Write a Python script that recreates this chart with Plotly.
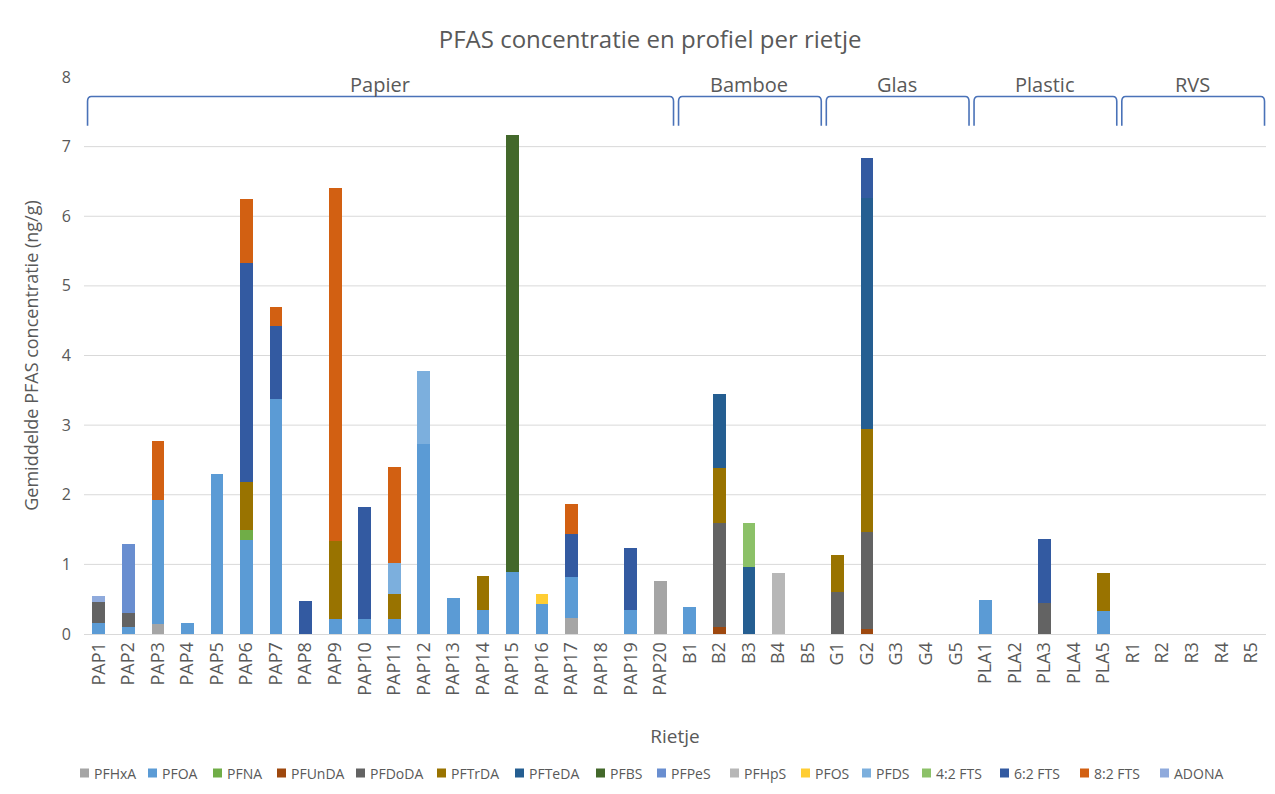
import plotly.graph_objects as go

categories = (["PAP%d" % i for i in range(1, 21)] + ["B%d" % i for i in range(1, 6)]
              + ["G%d" % i for i in range(1, 6)] + ["PLA%d" % i for i in range(1, 6)]
              + ["R%d" % i for i in range(1, 6)])

# group name, first and last category
groups = [("Papier", "PAP1", "PAP20"), ("Bamboe", "B1", "B5"), ("Glas", "G1", "G5"),
          ("Plastic", "PLA1", "PLA5"), ("RVS", "R1", "R5")]

def series(vals):
    out = [0.0] * len(categories)
    for k, v in vals.items():
        out[categories.index(k)] = v
    return out

PFHxA = series({"PAP3": 0.14, "PAP17": 0.23, "PAP20": 0.76})
PFOA = series({"PAP1": 0.16, "PAP2": 0.10, "PAP3": 1.79, "PAP4": 0.16, "PAP5": 2.30, "PAP6": 1.35,
               "PAP7": 3.37, "PAP9": 0.21, "PAP10": 0.21, "PAP11": 0.22, "PAP12": 2.73, "PAP13": 0.51,
               "PAP14": 0.35, "PAP15": 0.89, "PAP16": 0.43, "PAP17": 0.59, "PAP19": 0.35, "B1": 0.39,
               "PLA1": 0.49, "PLA5": 0.33})
PFNA = series({"PAP6": 0.15})
PFUnDA = series({"B2": 0.10, "G2": 0.07})
PFDoDA = series({"PAP1": 0.30, "PAP2": 0.20, "B2": 1.50, "G1": 0.61, "G2": 1.40, "PLA3": 0.44})
PFTrDA = series({"PAP6": 0.69, "PAP9": 1.12, "PAP11": 0.35, "PAP14": 0.49, "B2": 0.78, "G1": 0.52,
                 "G2": 1.47, "PLA5": 0.55})
PFTeDA = series({"B2": 1.07, "B3": 0.96, "G2": 3.32})
PFBS = series({"PAP15": 6.27})
PFPeS = series({"PAP2": 0.99})
PFHpS = series({"B4": 0.87})
PFOS = series({"PAP16": 0.14})
PFDS = series({"PAP11": 0.45, "PAP12": 1.05})
FTS42 = series({"B3": 0.64})
FTS62 = series({"PAP6": 3.14, "PAP7": 1.06, "PAP8": 0.48, "PAP10": 1.62, "PAP17": 0.61, "PAP19": 0.88,
                "G2": 0.57, "PLA3": 0.93})
FTS82 = series({"PAP3": 0.84, "PAP6": 0.92, "PAP7": 0.27, "PAP9": 5.08, "PAP11": 1.38, "PAP17": 0.44})
ADONA = series({"PAP1": 0.09})

series_names = ["PFHxA", "PFOA", "PFNA", "PFUnDA", "PFDoDA", "PFTrDA", "PFTeDA", "PFBS", "PFPeS",
                "PFHpS", "PFOS", "PFDS", "4:2 FTS", "6:2 FTS", "8:2 FTS", "ADONA"]
series_values = [PFHxA, PFOA, PFNA, PFUnDA, PFDoDA, PFTrDA, PFTeDA, PFBS, PFPeS, PFHpS, PFOS, PFDS,
                 FTS42, FTS62, FTS82, ADONA]
colors = ["#A5A5A5", "#5B9BD5", "#70AD47", "#9E480E", "#636363", "#997300", "#255E91", "#43682B",
          "#698ED0", "#B7B7B7", "#FFCD33", "#7CAFDD", "#8CC168", "#335AA1", "#D26012", "#8FAADC"]

# legend entry start positions (page pixels, layout only)
legend_x_px = [80, 148, 213, 277, 356, 437, 515, 596, 657, 730, 801, 862, 922, 1000, 1080, 1160]

xs = list(range(len(categories)))

fig = go.Figure()
for name, vals, col in zip(series_names, series_values, colors):
    fig.add_trace(go.Bar(x=xs, y=vals, name=name, marker=dict(color=col, line=dict(width=0))))

FONT = "Open Sans"
GREY = "#595959"
W, H = 1259, 778
L, R, T, B = 76, 1, 69, 152
PW, PH = W - L - R, H - T - B
OFF = 8  # page body margin


def px_x(X):
    return (X - OFF - L) / PW


def px_y(Y):
    return (OFF + H - B - Y) / PH


shapes = []
for yv in range(1, 8):
    shapes.append(dict(type="line", xref="paper", yref="y", x0=0, x1=1, y0=yv, y1=yv,
                       line=dict(color="#D9D9D9", width=1), layer="below"))

annotations = []
yt, yb, rx, ry = 7.72, 7.30, 0.13, 0.07
for gname, a, b in groups:
    x0 = categories.index(a) - 0.38
    x1 = categories.index(b) + 0.45
    path = (f"M {x0},{yb} L {x0},{yt - ry} Q {x0},{yt} {x0 + rx},{yt} "
            f"L {x1 - rx},{yt} Q {x1},{yt} {x1},{yt - ry} L {x1},{yb}")
    shapes.append(dict(type="path", xref="x", yref="y", path=path,
                       line=dict(color="#4A72B8", width=1.6)))
    annotations.append(dict(x=(categories.index(a) + categories.index(b)) / 2, y=7.89, xref="x",
                            yref="y", text=gname, showarrow=False,
                            font=dict(family=FONT, size=20, color=GREY)))

# legend row (squares + labels) at the bottom
LEG_Y = 773
SQ = 9
for name, col, X in zip(series_names, colors, legend_x_px):
    shapes.append(dict(type="rect", xref="paper", yref="paper",
                       x0=px_x(X), x1=px_x(X + SQ), y0=px_y(LEG_Y + SQ / 2), y1=px_y(LEG_Y - SQ / 2),
                       fillcolor=col, line=dict(width=0)))
    annotations.append(dict(x=px_x(X + SQ + 3), y=px_y(LEG_Y), xref="paper", yref="paper",
                            xanchor="left", yanchor="middle", text=name, showarrow=False,
                            font=dict(family=FONT, size=14, color=GREY)))

fig.update_layout(
    width=W, height=H,
    margin=dict(l=L, r=R, t=T, b=B),
    paper_bgcolor="white", plot_bgcolor="white",
    barmode="stack", bargap=0.57, showlegend=False,
    font=dict(family=FONT, color=GREY),
    title=dict(text="PFAS concentratie en profiel per rietje", x=0.51, xanchor="center",
               y=1 - 32 / H, yanchor="middle", font=dict(family=FONT, size=24, color=GREY)),
    xaxis=dict(tickmode="array", tickvals=xs, ticktext=categories, tickangle=-90,
               range=[-0.5, len(categories) - 0.5], showgrid=False, zeroline=False,
               showline=True, linecolor="#D9D9D9", ticks="",
               tickfont=dict(family=FONT, size=18, color=GREY),
               title=dict(text="Rietje", font=dict(family=FONT, size=19, color=GREY), standoff=34)),
    yaxis=dict(range=[0, 8], dtick=1, tick0=0, showgrid=False, zeroline=False, showline=False,
               tickfont=dict(family=FONT, size=16, color=GREY), ticklabelstandoff=12,
               title=dict(text="Gemiddelde PFAS concentratie (ng/g)",
                          font=dict(family=FONT, size=18, color=GREY), standoff=18)),
    shapes=shapes, annotations=annotations,
)

fig.write_html("out.html")
